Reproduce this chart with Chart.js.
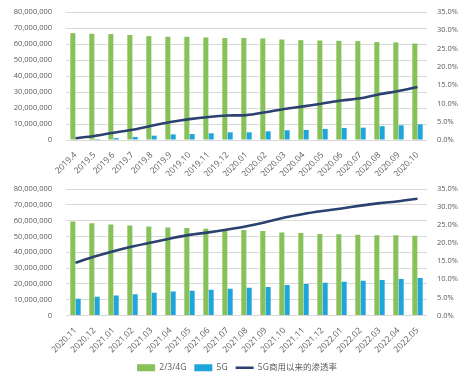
<!DOCTYPE html>
<html>
<head>
<meta charset="utf-8">
<script src="https://cdn.jsdelivr.net/npm/chart.js@4"></script>
<style>
  html, body { margin: 0; padding: 0; background: #ffffff; overflow: hidden; width: 474px; height: 378px; }
  #wrap1 { position: absolute; left: 0; top: 0; width: 474px; height: 176px; }
  #wrap2 { position: absolute; left: 0; top: 176px; width: 474px; height: 206px; }
</style>
</head>
<body>
<div id="wrap1"><canvas id="c1"></canvas></div>
<div id="wrap2"><canvas id="c2"></canvas></div>
<script>
const labelsTop = ['2019.4','2019.5','2019.6','2019.7','2019.8','2019.9','2019.10','2019.11','2019.12','2020.01','2020.02','2020.03','2020.04','2020.05','2020.06','2020.07','2020.08','2020.09','2020.10'];
const legacyTop = [66.8,66.4,66.2,65.6,64.9,64.5,64.5,64.1,63.7,63.8,63.5,62.8,62.4,62.2,62.0,61.8,61.2,61.0,60.3].map(v => v * 1e6);
const fiveGTop = [0.3,0.6,1.2,1.9,2.7,3.5,3.7,4.2,4.8,4.8,5.4,6.1,6.3,6.9,7.5,7.7,8.6,9.2,9.8].map(v => v * 1e6);
const rateTop = [0.5,1.1,2.0,2.8,3.9,4.9,5.7,6.3,6.7,6.8,7.6,8.5,9.2,10.0,10.8,11.4,12.5,13.4,14.5];

const labelsBottom = ['2020.11','2020.12','2021.01','2021.02','2021.03','2021.04','2021.05','2021.06','2021.07','2021.08','2021.09','2021.10','2021.11','2021.12','2022.01','2022.02','2022.03','2022.04','2022.05'];
const legacyBottom = [59.5,58.4,57.6,56.9,56.3,55.7,55.4,54.8,53.9,54.0,53.5,52.5,52.1,51.6,51.4,51.0,50.8,50.8,50.4].map(v => v * 1e6);
const fiveGBottom = [10.6,11.9,12.7,13.5,14.4,15.2,15.7,16.3,16.9,17.6,18.0,19.3,19.9,20.7,21.4,22.0,22.4,23.1,23.7].map(v => v * 1e6);
const rateBottom = [14.6,16.3,17.8,19.1,20.2,21.3,22.3,23.0,23.8,24.7,25.8,27.1,28.1,28.9,29.6,30.4,31.1,31.6,32.3];

const seriesNames = ['2/3/4G', '5G', '5G商用以来的渗透率'];
const leftTicks = { min: 0, max: 80000000, step: 10000000 };
const rightTicks = { min: 0, max: 35, step: 5 };

const GREEN = '#86c15a';
const BLUE = '#1ea5dc';
const NAVY = '#2b4170';
const TEXT = '#595959';
const FONT = "'Open Sans', 'Noto Sans CJK SC', sans-serif";

Chart.defaults.font.family = FONT;
Chart.defaults.color = TEXT;
Chart.defaults.animation = false;

function makeChart(id, labels, legacy, fiveG, rate, showLegend, xHeight, padTop) {
  return new Chart(document.getElementById(id), {
    data: {
      labels: labels,
      datasets: [
        { type: 'bar', label: seriesNames[0], data: legacy, backgroundColor: GREEN, yAxisID: 'y',
          categoryPercentage: 0.56, barPercentage: 0.95, order: 1, pointStyle: 'rect' },
        { type: 'bar', label: seriesNames[1], data: fiveG, backgroundColor: BLUE, yAxisID: 'y',
          categoryPercentage: 0.56, barPercentage: 0.95, order: 1, pointStyle: 'rect' },
        { type: 'line', label: seriesNames[2], data: rate, borderColor: NAVY, backgroundColor: NAVY,
          borderWidth: 2.6, pointRadius: 0, tension: 0.3, yAxisID: 'y1', order: 0, pointStyle: 'line' }
      ]
    },
    options: {
      responsive: true,
      maintainAspectRatio: false,
      layout: { padding: { top: padTop, left: 0, right: 0, bottom: 0 } },
      plugins: {
        tooltip: { enabled: false },
        legend: {
          display: showLegend,
          position: 'bottom',
          labels: {
            usePointStyle: true,
            pointStyleWidth: 18,
            boxHeight: 7,
            padding: 8,
            color: TEXT,
            font: { size: 8.5, family: FONT },
            sort: (a, b) => a.datasetIndex - b.datasetIndex
          }
        }
      },
      scales: {
        x: {
          grid: { display: false },
          border: { display: false },
          ticks: { font: { size: 8.5 }, color: TEXT, maxRotation: 45, minRotation: 45, autoSkip: false, padding: 2 },
          afterFit: (s) => { s.height = xHeight; }
        },
        y: {
          position: 'left',
          min: leftTicks.min, max: leftTicks.max,
          grid: { color: '#d9d9d9', drawTicks: false },
          border: { display: false },
          ticks: { stepSize: leftTicks.step, font: { size: 7.5 }, color: TEXT, padding: 14,
            callback: (v) => Number(v).toLocaleString('en-US') },
          afterFit: (s) => { s.width = 66; s.paddingTop = 4; s.paddingBottom = 4; }
        },
        y1: {
          position: 'right',
          min: rightTicks.min, max: rightTicks.max,
          grid: { display: false, drawTicks: false },
          border: { display: false },
          ticks: { stepSize: rightTicks.step, font: { size: 7.5 }, color: TEXT, padding: 10,
            callback: (v) => Number(v).toFixed(1) + '%' },
          afterFit: (s) => { s.width = 47; s.paddingTop = 4; s.paddingBottom = 4; }
        }
      }
    }
  });
}

makeChart('c1', labelsTop, legacyTop, fiveGTop, rateTop, false, 36, 12);
makeChart('c2', labelsBottom, legacyBottom, fiveGBottom, rateBottom, true, 40, 13);
</script>
</body>
</html>
